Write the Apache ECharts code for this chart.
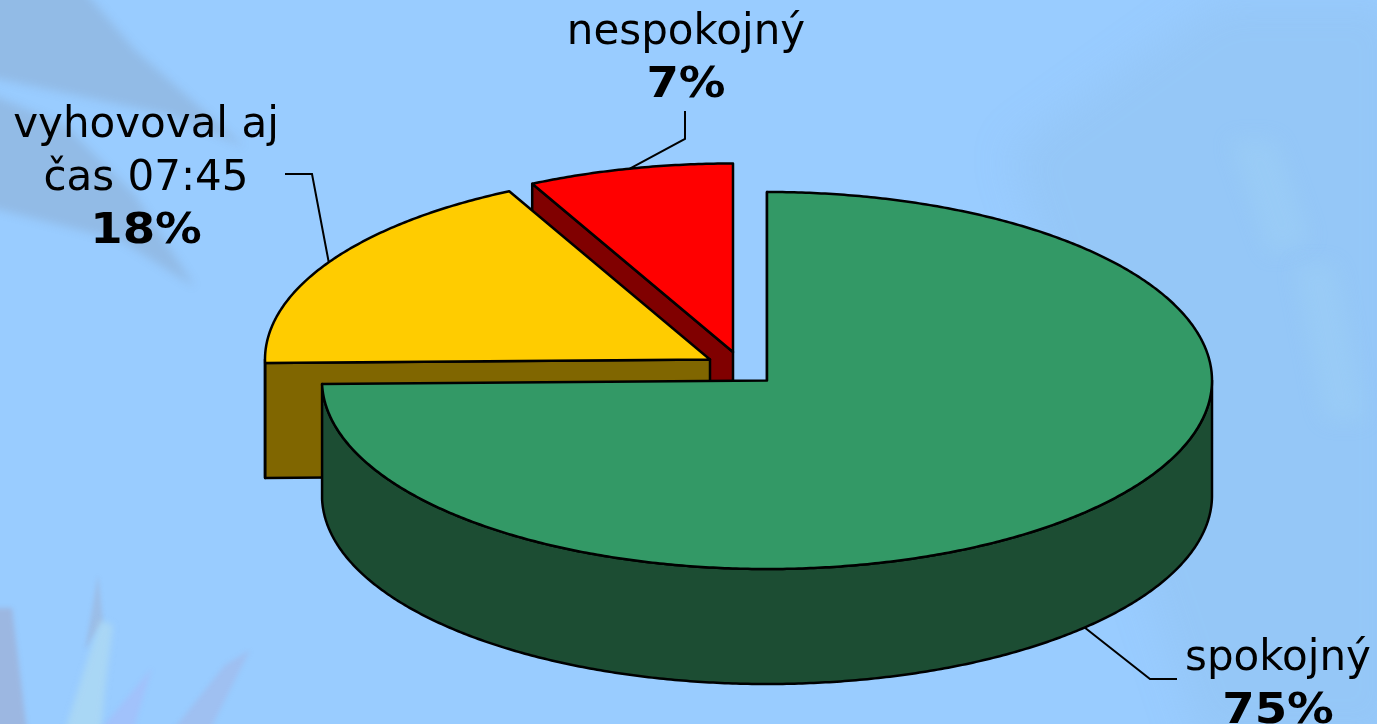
<!DOCTYPE html>
<html>
<head>
<meta charset="utf-8">
<title>spokojnost</title>
<style>
    html, body { margin: 0; padding: 0; background: #99ccff; }
    #chart_pie { width: 1377px; height: 724px; }
</style>
<script src="https://cdn.jsdelivr.net/npm/echarts@6/dist/echarts.min.js"></script>
</head>
<body>
<div id="chart_pie"></div>
<script>
    // data, drawn counter clockwise from 12 o'clock
    var categories = ['nespokojný', 'vyhovoval aj\nčas 07:45', 'spokojný'];
    var sliceValues = [7.45, 17.85, 74.7];
    var topColors = ['#ff0000', '#ffcc00', '#339966'];
    var sideColors = ['#800000', '#806600', '#1c4d33'];

    // layout
    var radiusX = 445;
    var radiusY = 188.5;
    var depth = 115;
    var sliceCenters = [[733, 352], [710, 359.5], [767, 380.5]];
    var labelCenters = [[686, 54.5], [146, 147.5], [1278, 680.5]];
    var leaderElbows = [[[685, 111], [685, 139]], [[285, 174], [312, 174]], [[1177, 679], [1150, 679]]];
    var fontName = '"DejaVu Sans"';

    function rimPoint(center, deg, drop) {
        var rad = deg * Math.PI / 180;
        return [
            center[0] + radiusX * Math.sin(rad),
            center[1] - radiusY * Math.cos(rad) + (drop || 0)
        ];
    }

    function arcPoints(center, from, to, drop) {
        var pts = [];
        var steps = Math.max(2, Math.ceil(Math.abs(to - from) * 2));
        for (var i = 0; i <= steps; i++) {
            pts.push(rimPoint(center, from + (to - from) * i / steps, drop));
        }
        return pts;
    }

    function shape(points, fill) {
        return {
            type: 'polygon',
            shape: { points: points },
            style: { fill: fill, stroke: '#000', lineWidth: 2.5, lineJoin: 'round' }
        };
    }

    function line(points) {
        return {
            type: 'polyline',
            shape: { points: points },
            style: { fill: null, stroke: '#000', lineWidth: 2 }
        };
    }

    function renderSlice(params, api) {
        var i = params.dataIndex;
        var value = api.value(0);
        var total = sliceValues.reduce(function (a, b) { return a + b; }, 0);
        var before = 0;
        for (var k = 0; k < i; k++) {
            before += sliceValues[k];
        }
        var start = -before / total * 360;
        var end = -(before + value) / total * 360;
        var mid = (start + end) / 2;
        var c = sliceCenters[i];
        var c2 = [c[0], c[1] + depth];
        var kids = [];

        // cut face on the far side of the slice
        var edge = rimPoint(c, end, 0);
        kids.push(shape([c, edge, [edge[0], edge[1] + depth], c2], sideColors[i]));

        // outer wall, only the front half of the rim can be seen
        var wallFrom = Math.max(end, -270);
        var wallTo = Math.min(start, -90);
        if (wallFrom < wallTo) {
            var upper = arcPoints(c, wallFrom, wallTo, 0);
            var lower = arcPoints(c, wallTo, wallFrom, depth);
            kids.push(shape(upper.concat(lower), sideColors[i]));
        }

        // top face
        kids.push(shape([c].concat(arcPoints(c, start, end, 0)), topColors[i]));

        // leader line
        var anchorDrop = (mid < -90 && mid > -270) ? depth : 0;
        var anchor = rimPoint(c, mid, anchorDrop);
        kids.push(line([anchor, leaderElbows[i][1], leaderElbows[i][0]]));

        // label, name lines then bold percent
        var lines = categories[i].split('\n');
        var lab = labelCenters[i];
        lines.forEach(function (txt, n) {
            kids.push({
                type: 'text',
                style: {
                    text: txt, x: lab[0], y: lab[1] + n * 53,
                    align: 'center', verticalAlign: 'bottom',
                    fill: '#000', font: '42px ' + fontName
                }
            });
        });
        kids.push({
            type: 'text',
            x: lab[0],
            y: lab[1] + lines.length * 53,
            scaleX: 1.11,
            style: {
                text: Math.round(value) + '%', x: 0, y: 0,
                align: 'center', verticalAlign: 'bottom',
                fill: '#000', font: 'bold 42px ' + fontName
            }
        });
        return { type: 'group', children: kids };
    }

    // faint wallpaper shapes behind the chart
    var wallpaper = [
        { pts: [[-20, -20], [75, -20], [135, 50], [245, 147], [170, 115], [-20, 75]], color: 'rgba(125,135,150,0.24)', blur: 10 },
        { pts: [[-20, 90], [65, 125], [135, 195], [195, 287], [120, 240], [-20, 205]], color: 'rgba(125,135,150,0.24)', blur: 10 },
        { pts: [[-20, 608], [12, 608], [28, 740], [-20, 740]], color: 'rgba(165,135,155,0.30)', blur: 5 },
        { pts: [[98, 575], [103, 620], [85, 650]], color: 'rgba(165,140,150,0.22)', blur: 4 },
        { pts: [[100, 620], [113, 625], [105, 690], [100, 740], [62, 740]], color: 'rgba(200,235,225,0.35)', blur: 6 },
        { pts: [[152, 668], [130, 740], [92, 740]], color: 'rgba(190,160,235,0.22)', blur: 5 },
        { pts: [[250, 650], [205, 740], [165, 740], [225, 665]], color: 'rgba(180,150,190,0.22)', blur: 5 },
        { pts: [[1010, 150], [1220, 0], [1400, 0], [1400, 740], [1200, 740], [1140, 560]], color: 'rgba(140,185,225,0.26)', blur: 40 },
        { pts: [[1230, 140], [1275, 140], [1310, 240], [1270, 255]], color: 'rgba(165,215,245,0.28)', blur: 20 },
        { pts: [[1295, 265], [1335, 265], [1365, 420], [1325, 420]], color: 'rgba(165,215,245,0.28)', blur: 20 }
    ];

    var chart = echarts.init(document.getElementById('chart_pie'));
    chart.setOption({
        backgroundColor: '#99ccff',
        animation: false,
        // only the shadow lands on the canvas, which gives the shapes soft edges
        graphic: wallpaper.map(function (w) {
            return {
                type: 'polygon',
                silent: true,
                z: -10,
                x: -3000,
                shape: { points: w.pts },
                style: { fill: '#000', shadowBlur: w.blur, shadowColor: w.color, shadowOffsetX: 3000 }
            };
        }),
        series: [{
            type: 'custom',
            coordinateSystem: 'none',
            silent: true,
            clip: false,
            data: sliceValues.map(function (v, i) {
                return { name: categories[i], value: [v] };
            }),
            renderItem: renderSlice
        }]
    });
</script>
</body>
</html>
